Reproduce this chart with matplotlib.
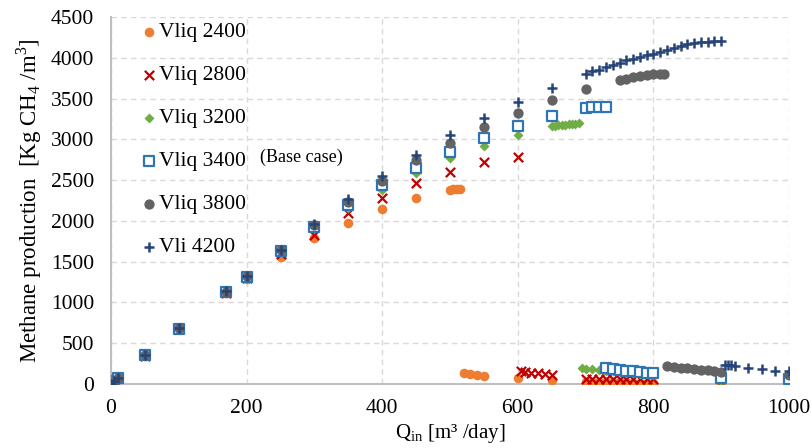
import matplotlib
matplotlib.use("Agg")
import matplotlib.pyplot as plt

plt.rcParams['font.family'] = ['Liberation Serif', 'DejaVu Serif']
plt.rcParams['mathtext.fontset'] = 'custom'
plt.rcParams['mathtext.rm'] = 'Liberation Serif'

# --- data (Q_in [m3/day], methane production) ---
x_2400 = [0, 5, 10, 50, 100, 170, 200, 250, 300, 350, 400, 450, 500, 505, 510, 515,
          520, 530, 540, 550, 600, 650,
          700, 710, 720, 730, 740, 750, 760, 770, 780, 790, 800, 900, 1000]
y_2400 = [0, 35, 70, 345, 670, 1110, 1290, 1552, 1793, 1977, 2141, 2283, 2377, 2390, 2392, 2385,
          131, 119, 107, 98, 70, 49,
          22, 21, 21, 20, 20, 19, 19, 18, 18, 17, 17, 5, 3]

x_2800 = [0, 5, 10, 50, 100, 170, 200, 250, 300, 350, 400, 450, 500, 550, 600,
          605, 610, 620, 630, 640, 650,
          700, 710, 720, 730, 740, 750, 760, 770, 780, 790, 800, 900, 1000]
y_2800 = [0, 35, 70, 348, 675, 1120, 1300, 1590, 1826, 2092, 2275, 2459, 2602, 2724, 2786,
          163, 151, 139, 131, 122, 114,
          65, 64, 63, 62, 61, 60, 59, 58, 57, 56, 55, 15, 10]

x_3200 = [0, 5, 10, 50, 100, 170, 200, 250, 300, 350, 400, 450, 500, 550, 600,
          650, 655, 660, 665, 670, 675, 680, 685, 690,
          695, 700, 710, 720, 730, 740, 750, 760, 770, 780, 790, 800, 900, 1000]
y_3200 = [0, 35, 70, 350, 680, 1125, 1310, 1625, 1910, 2153, 2377, 2585, 2766, 2917, 3051,
          3160, 3165, 3170, 3175, 3180, 3185, 3190, 3192, 3195,
          192, 185, 178, 170, 163, 155, 148, 140, 132, 125, 118, 110, 40, 30]

x_3400 = [0, 5, 10, 50, 100, 170, 200, 250, 300, 350, 400, 450, 500, 550, 600, 650,
          700, 710, 720, 730,
          730, 740, 750, 760, 770, 780, 790, 800, 900, 1000]
y_3400 = [0, 35, 70, 350, 680, 1130, 1315, 1632, 1930, 2194, 2439, 2650, 2839, 3011, 3162, 3288,
          3382, 3395, 3400, 3395,
          195, 185, 175, 165, 155, 147, 138, 130, 70, 57]

x_3800 = [0, 5, 10, 50, 100, 170, 200, 250, 300, 350, 400, 450, 500, 550, 600, 650, 700,
          750, 760, 770, 780, 790, 800, 810, 815,
          820, 830, 840, 850, 860, 870, 880, 890, 900, 1000]
y_3800 = [0, 35, 70, 352, 682, 1132, 1318, 1638, 1945, 2234, 2492, 2745, 2957, 3153, 3325, 3488, 3615,
          3725, 3745, 3760, 3775, 3790, 3800, 3805, 3800,
          215, 205, 198, 190, 182, 175, 168, 160, 152, 110]

x_4200 = [0, 5, 10, 50, 100, 170, 200, 250, 300, 350, 400, 450, 500, 550, 600, 650,
          700, 710, 720, 730, 740, 750, 760, 770, 780, 790, 800,
          810, 820, 830, 840, 850, 860, 870, 880, 890, 900,
          905, 910, 915, 920, 940, 960, 980, 1000]
y_4200 = [0, 35, 70, 352, 684, 1135, 1320, 1642, 1961, 2263, 2549, 2806, 3051, 3267, 3460, 3635,
          3799, 3836, 3856, 3881, 3914, 3938, 3967, 3987, 4007, 4032, 4052,
          4073, 4101, 4122, 4150, 4163, 4183, 4191, 4199, 4203, 4207,
          235, 233, 230, 226, 200, 180, 163, 159]

fig = plt.figure(figsize=(8.12, 4.48), dpi=100)
ax = fig.add_axes([0.1367, 0.1429, 0.835, 0.8192])

ax.scatter(x_2400, y_2400, marker='o', s=48, color='#ED7D31', linewidths=0, label='Vliq 2400', zorder=3)
ax.scatter(x_2800, y_2800, marker='x', s=45, color='#C00000', linewidths=1.6, label='Vliq 2800', zorder=3)
ax.scatter(x_3200, y_3200, marker='D', s=26, color='#70AD47', linewidths=0, label='Vliq 3200', zorder=3)
ax.scatter(x_3400, y_3400, marker='s', s=46, facecolor='white', edgecolor='#2E75B6', linewidths=1.6,
           label='Vliq 3400', zorder=3)
ax.scatter(x_3800, y_3800, marker='o', s=55, color='#636363', linewidths=0, label='Vliq 3800', zorder=3)
ax.scatter(x_4200, y_4200, marker='+', s=60, color='#264478', linewidths=1.8, label='Vli 4200', zorder=3)

ax.set_xlim(0, 1000)
ax.set_ylim(0, 4500)
ax.set_xticks(range(0, 1001, 200))
ax.set_yticks(range(0, 4501, 500))
ax.tick_params(length=0, labelsize=15.5, colors='black')
ax.tick_params(axis='y', pad=12)
ax.tick_params(axis='x', pad=11)

ax.grid(True, color='#D9D9D9', linestyle=(0, (4, 3)), linewidth=1)
ax.set_axisbelow(True)
for side in ['top', 'right']:
    ax.spines[side].set_visible(False)
for side in ['left', 'bottom']:
    ax.spines[side].set_color('#BFBFBF')
    ax.spines[side].set_linewidth(1.5)

ax.set_xlabel('Q$_\\mathregular{in}$ [m³ /day]', fontsize=15, labelpad=3)
ax.set_ylabel('Methane production  [Kg CH$_\\mathregular{4}$ /m$^\\mathregular{3}$]', fontsize=16.5, labelpad=5)

ax.legend(loc='upper left', bbox_to_anchor=(0.025, 1.009), frameon=False, fontsize=15.5,
          handletextpad=-0.14, handlelength=1.2, labelspacing=1.065, borderaxespad=0, scatterpoints=1)
ax.text(220, 2782, '(Base case)', fontsize=13, va='center', ha='left')

fig.savefig('out.png', dpi=100)
